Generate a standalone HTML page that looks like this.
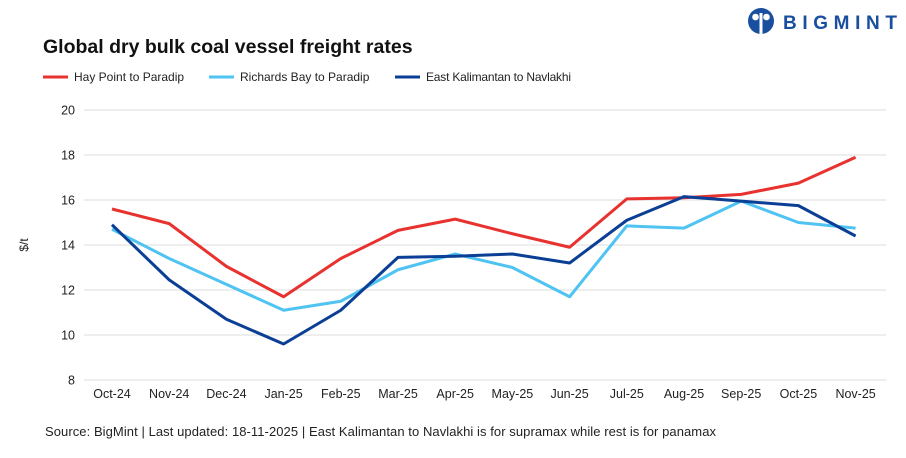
<!DOCTYPE html>
<html><head><meta charset="utf-8"><style>
body{margin:0;background:#fff;width:906px;height:453px;overflow:hidden;font-family:"Liberation Sans",sans-serif}
</style></head><body>
<svg id="c" width="906" height="453" xmlns="http://www.w3.org/2000/svg" font-family="Liberation Sans, sans-serif">
<text x="43" y="53" font-size="19.5" font-weight="bold" fill="#111">Global dry bulk coal vessel freight rates</text>
<g font-size="12" fill="#222">
<line x1="43" y1="77" x2="68" y2="77" stroke="#e8322f" stroke-width="3"/><text x="74" y="81">Hay Point to Paradip</text>
<line x1="209" y1="77" x2="234" y2="77" stroke="#4fc3f1" stroke-width="3"/><text x="240" y="81">Richards Bay to Paradip</text>
<line x1="395" y1="77" x2="420" y2="77" stroke="#0b3f95" stroke-width="3"/><text x="426" y="81" textLength="145">East Kalimantan to Navlakhi</text>
</g>
<g id="grid"></g>
<text transform="translate(28,245) rotate(-90)" font-size="12" fill="#222" text-anchor="middle">$/t</text>
<text x="45" y="436" font-size="13" fill="#222" textLength="671">Source: BigMint | Last updated: 18-11-2025 | East Kalimantan to Navlakhi is for supramax while rest is for panamax</text>
<g>
<circle cx="761" cy="21" r="13" fill="#1a4fa0"/>
<circle cx="755.5" cy="17" r="3.3" fill="#fff"/><circle cx="766.5" cy="17" r="3.3" fill="#fff"/>
<rect x="759.5" y="13" width="3" height="21" fill="#fff"/>
<text x="783" y="29" font-size="19" font-weight="bold" fill="#1a4fa0" textLength="114">BIGMINT</text>
</g>
</svg>
<script>
var g=document.getElementById('grid');
function Y(v){return 380-(v-8)*22.5}function X(i){return 112+i*57.2}
var h='';
for(var v=8;v<=20;v+=2){h+='<line x1="84" x2="886" y1="'+Y(v)+'" y2="'+Y(v)+'" stroke="#dcdcdc" stroke-width="1"/><text x="75" y="'+(Y(v)+4.5)+'" font-size="12.5" fill="#222" text-anchor="end">'+v+'</text>';}
var m=['Oct-24','Nov-24','Dec-24','Jan-25','Feb-25','Mar-25','Apr-25','May-25','Jun-25','Jul-25','Aug-25','Sep-25','Oct-25','Nov-25'];
m.forEach(function(t,i){h+='<text x="'+X(i)+'" y="398" font-size="12.5" fill="#222" text-anchor="middle">'+t+'</text>'});
var d=[['#4fc3f1',[14.7,13.4,12.25,11.1,11.5,12.9,13.6,13.0,11.7,14.85,14.75,15.95,15.0,14.75]],
['#e8322f',[15.6,14.95,13.05,11.7,13.4,14.65,15.15,14.5,13.9,16.05,16.1,16.25,16.75,17.9]],
['#0b3f95',[14.9,12.45,10.7,9.6,11.1,13.45,13.5,13.6,13.2,15.1,16.15,15.95,15.75,14.4]]];
d.forEach(function(r){h+='<polyline fill="none" stroke="'+r[0]+'" stroke-width="3" stroke-linejoin="round" points="'+r[1].map(function(v,i){return X(i)+','+Y(v)}).join(' ')+'"/>'});
g.innerHTML=h;
</script>
</body></html>
